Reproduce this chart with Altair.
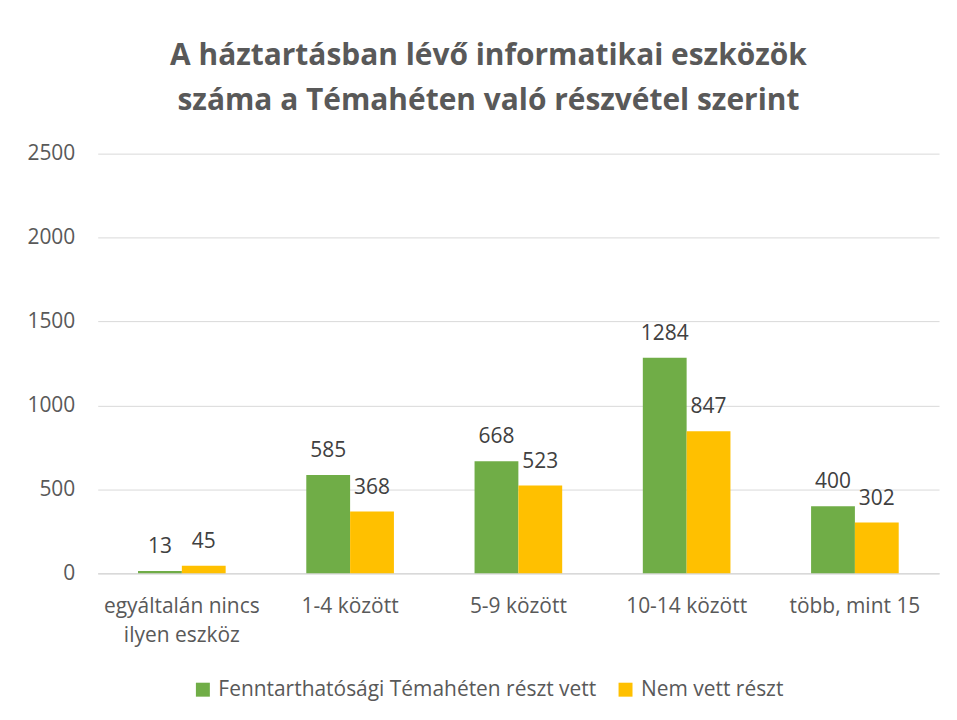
import altair as alt
import pandas as pd

categories = ["egyáltalán nincs ilyen eszköz", "1-4 között", "5-9 között", "10-14 között", "több, mint 15"]
series_names = ["Fenntarthatósági Témahéten részt vett", "Nem vett részt"]
took_part = [13, 585, 668, 1284, 400]
did_not = [45, 368, 523, 847, 302]
y_ticks = [0, 500, 1000, 1500, 2000, 2500]
colors = ["#70AD47", "#FFC000"]

rows = []
for c, a, b in zip(categories, took_part, did_not):
    rows.append({"cat": c, "series": series_names[0], "value": a})
    rows.append({"cat": c, "series": series_names[1], "value": b})
df = pd.DataFrame(rows)

FONT = "Open Sans"
GREY = "#595959"

x_enc = alt.X("cat:N", sort=categories, title=None,
              scale=alt.Scale(paddingInner=0, paddingOuter=0),
              axis=alt.Axis(labelAngle=0, labelFontSize=21, labelColor=GREY, labelFont=FONT,
                            labelPadding=22, labelLineHeight=29, ticks=False,
                            domainColor="#D9D9D9", domainWidth=1.5, labelLimit=0,
                            labelExpr="datum.label == 'egyáltalán nincs ilyen eszköz' ? ['egyáltalán nincs', 'ilyen eszköz'] : datum.label"))
xoff = alt.XOffset("series:N", sort=series_names,
                   scale=alt.Scale(paddingOuter=0.92, paddingInner=0))

bars = alt.Chart(df).mark_bar().encode(
    x=x_enc,
    xOffset=xoff,
    y=alt.Y("value:Q", title=None,
            scale=alt.Scale(domain=[0, 2500], nice=False),
            axis=alt.Axis(values=y_ticks, format="d", labelFontSize=21,
                          labelColor=GREY, labelFont=FONT, labelPadding=23, ticks=False,
                          domain=False, gridColor="#D9D9D9", gridWidth=1)),
    color=alt.Color("series:N", sort=series_names,
                    scale=alt.Scale(domain=series_names, range=colors),
                    legend=alt.Legend(title=None, orient="none", direction="horizontal",
                                      legendX=95, legendY=527, symbolType="square",
                                      symbolSize=196, symbolStrokeWidth=0,
                                      labelFontSize=21, labelColor=GREY, labelFont=FONT,
                                      labelLimit=0, columnPadding=18, labelOffset=5)),
)

labels = alt.Chart(df).mark_text(fontSize=21, font=FONT, color="#404040",
                                 baseline="alphabetic", dy=-18).encode(
    x=alt.X("cat:N", sort=categories),
    xOffset=xoff,
    y="value:Q",
    text="value:Q",
)

chart = (bars + labels).properties(
    width=844, height=421,
    autosize=alt.AutoSizeParams(type="none"),
    padding={"left": 90, "top": 145, "right": 10, "bottom": 130},
    title=alt.Title(["A háztartásban lévő informatikai eszközök",
                     "száma a Témahéten való részvétel szerint"],
                    font=FONT, fontSize=30, fontWeight="bold", color=GREY,
                    anchor="middle", dx=-30, offset=27, lineHeight=45),
    background="white",
).configure_view(stroke=None)

chart.save("out.html", embed_options={"renderer": "svg", "actions": False})
